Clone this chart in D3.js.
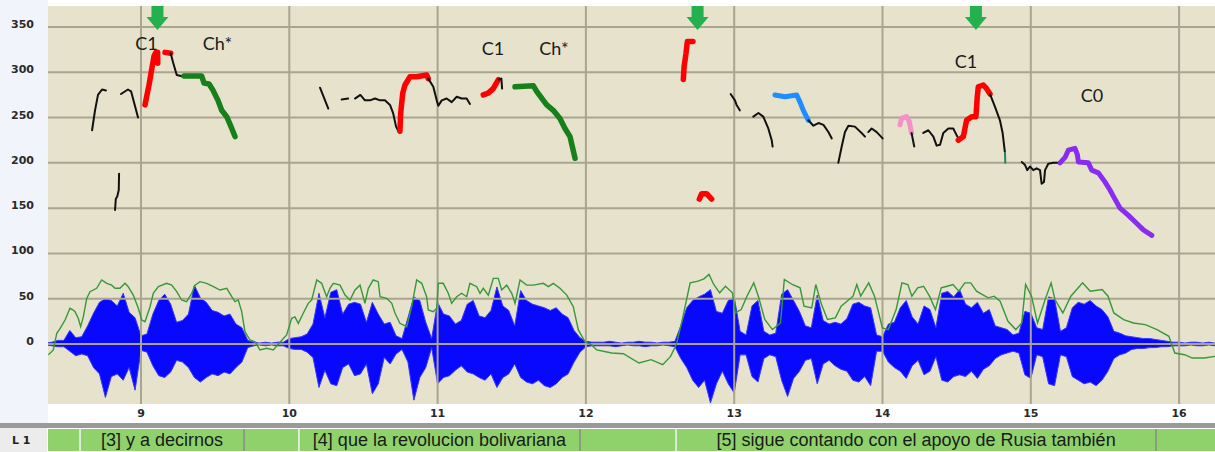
<!DOCTYPE html>
<html><head><meta charset="utf-8">
<script src="https://cdnjs.cloudflare.com/ajax/libs/d3/7.8.5/d3.min.js"></script>
<style>html,body{margin:0;padding:0;background:#fff;overflow:hidden}svg{display:block}</style>
</head><body><svg id="c" width="1215" height="452"></svg>
<script>
// ---------- DATA ----------
const yTickValues = [0, 50, 100, 150, 200, 250, 300, 350];
const xTickValues = [9, 10, 11, 12, 13, 14, 15, 16];

// pitch contour segments (time in s, F0 in Hz), with a class per segment
const contourClass = ['plain','plain','plain','c1','c1','plain','ch','plain','plain','plain','c1','plain','c1','plain','ch',
  'c1','c1','plain','plain','blue','plain','plain','plain','pink','plain','plain','c1','plain','tick','plain','purple'];
const contourTimes = [
  [8.67,8.69,8.71,8.737,8.764],
  [8.825,8.83,8.84,8.85,8.852],
  [8.865,8.912,8.933,8.98],
  [9.027,9.054,9.074,9.088,9.1,9.112,9.113],
  [9.162,9.2],
  [9.2,9.216,9.241,9.29],
  [9.29,9.409,9.425,9.459,9.486,9.519,9.544,9.578,9.612,9.634],
  [10.207,10.263],
  [10.353,10.397],
  [10.443,10.479,10.51,10.544,10.578,10.612,10.645,10.679,10.70,10.72,10.735],
  [10.746,10.751,10.765,10.78,10.814,10.859,10.927,10.937],
  [10.937,10.971,10.994,11.005,11.028,11.061,11.095,11.129,11.162,11.196,11.218],
  [11.308,11.341,11.375,11.41],
  [11.41,11.43,11.435],
  [11.522,11.646,11.668,11.713,11.736,11.78,11.825,11.859,11.893,11.927],
  [12.657,12.662,12.675,12.684,12.722],
  [12.765,12.781,12.814,12.848],
  [12.976,13.005,13.016,13.038],
  [13.129,13.163,13.196,13.23,13.253,13.259],
  [13.275,13.343,13.421,13.444,13.466,13.5],
  [13.5,13.534,13.568,13.602,13.635,13.658],
  [13.702,13.725,13.747,13.77,13.814,13.859,13.882],
  [13.904,13.927,13.961,14.001],
  [14.118,14.129,14.163,14.18,14.196],
  [14.196,14.214],
  [14.275,14.309,14.343,14.365,14.388,14.41,14.444,14.477,14.511],
  [14.511,14.545,14.567,14.601,14.63,14.639,14.646,14.68,14.702,14.725],
  [14.725,14.758,14.792,14.81,14.825],
  [14.826,14.828],
  [14.939,14.96,14.976,14.994,15.017,15.039,15.062,15.073,15.089,15.096,15.118,15.151,15.197],
  [15.197,15.231,15.253,15.298,15.314,15.321,15.388,15.411,15.455,15.5,15.534,15.557,15.602,15.658,15.715,15.759,15.816]
];
const contourHz = [
  [236,258,275,281,280],
  [148,160,163,170,188],
  [276,281,279,250],
  [264,286,305,318,322,322,310],
  [322,321],
  [321,311,297,295],
  [296,296,288,287,280,269,258,251,238,229],
  [283,260],
  [270,271],
  [271,275,269,269,271,269,269,264,255,240,235],
  [235,255,277,286,295,295,297,293],
  [293,284,269,263,269,271,267,273,271,271,265],
  [275,277,282,292],
  [292,293,282],
  [284,285,279,269,264,258,249,238,229,205],
  [292,306,321,334,334],
  [160,166,166,160],
  [276,269,264,258],
  [251,255,251,238,225,218],
  [275,273,275,267,258,247],
  [247,241,244,242,234,227],
  [200,218,234,241,240,233,229],
  [234,238,234,227],
  [242,249,251,246,233],
  [233,218],
  [233,236,229,219,220,233,238,238,227],
  [225,229,247,251,251,273,284,286,282,276],
  [276,262,247,233,212],
  [211,200],
  [201,198,192,196,192,194,192,177,179,192,199,200,200],
  [200,206,214,216,209,201,200,192,189,179,170,163,150,142,133,126,120]
];

// intensity curve (green)
const intensityT = [8.375,8.409,8.432,8.454,8.488,8.521,8.543,8.555,8.577,8.593,8.611,8.634,8.656,8.701,8.735,8.769,8.802,8.825,8.858,8.892,8.914,8.948,8.982,9.005,9.027,9.061,9.083,9.117,9.173,9.207,9.241,9.274,9.308,9.342,9.364,9.398,9.443,9.488,9.533,9.578,9.612,9.634,9.656,9.679,9.701,9.735,9.769,9.802,9.848,9.892,9.937,9.982,10.016,10.038,10.061,10.094,10.128,10.151,10.185,10.218,10.252,10.274,10.297,10.342,10.376,10.409,10.443,10.477,10.51,10.533,10.566,10.6,10.612,10.657,10.691,10.713,10.746,10.792,10.825,10.859,10.893,10.926,10.937,10.971,10.994,11.005,11.038,11.072,11.095,11.129,11.162,11.196,11.218,11.264,11.286,11.308,11.342,11.376,11.409,11.432,11.466,11.5,11.522,11.556,11.601,11.646,11.713,11.747,11.78,11.825,11.871,11.915,11.949,11.994,12.039,12.073,12.174,12.253,12.358,12.439,12.518,12.571,12.61,12.65,12.703,12.756,12.796,12.83,12.862,12.902,12.941,12.988,13.007,13.047,13.086,13.132,13.166,13.206,13.258,13.312,13.338,13.391,13.444,13.471,13.523,13.55,13.589,13.629,13.682,13.721,13.761,13.801,13.827,13.853,13.907,13.946,13.999,14.039,14.092,14.131,14.171,14.198,14.237,14.277,14.317,14.357,14.396,14.436,14.475,14.515,14.555,14.595,14.634,14.674,14.713,14.753,14.793,14.846,14.899,14.939,14.965,15.005,15.045,15.097,15.137,15.163,15.216,15.27,15.349,15.401,15.481,15.521,15.56,15.626,15.692,15.772,15.851,15.931,15.971,16.037,16.089,16.169,16.242];
const intensityV = [-12,-6.6,11.8,17,26.5,39.4,37.5,35.7,28.4,19.1,30,50.4,57.8,61.5,70.7,67,65,61.5,61.5,67,63.3,54,39.4,26.5,24.6,41.2,56,63.3,67,65,57.8,48.6,46.7,56,65,68.8,67,63.3,59.6,61.5,52.2,46.7,48.6,35.7,13.6,4.4,2.5,-6.6,-4.7,-6.6,2,10,28.4,30,22.8,33.9,44.9,48.6,70.7,67,52.2,61.5,67,65,54,48.6,59.6,65,44.9,61.5,70.7,68.8,52.2,50.4,44.9,33.9,22.8,19.1,41.2,70.7,67,52.2,37.5,35.7,39.4,67,67,56,44.9,52.2,56,52.2,67,63.3,56,61.5,54,72.5,72.5,59.6,65,56,44.9,70.7,65,65,67,63.3,67,61.5,54,41.2,15.5,2.5,-1,-6.6,-10,-10.7,-21,-17.3,-22.9,-13.7,-0.7,27,67.5,69.4,72,76.8,65.7,56.5,63.8,56.5,34.3,38,52.8,67.5,51,27,15.9,23.2,71.2,65.7,62,41.7,39.9,65.7,43.5,27,28.8,41.7,47.2,52.8,65.7,52.8,67.5,52.8,17.7,15.9,38,67.5,65.7,52.8,62,63.8,52.8,38,62,63.8,65.7,58.3,67.5,67.5,58.3,54.6,51,52.8,47.2,25.1,15.9,23.2,65.7,52.8,23.2,49.1,67.5,49.1,34.3,52.8,67.5,58.3,60.1,52.8,34.3,27,23.2,21.4,15.9,8.5,-10,-11.8,-15.5,-15.5,-13.7];

// waveform envelope, sampled every 0.04 s from 8.36 s
const waveStart = 8.36, waveStep = 0.04;
const waveUpper = [1,2,4,4,15,7,8,20,34,46, 50,48,42,56,35,29,9,11,33,48, 55,44,24,26,33,65,51,46,37,35, 31,33,22,18,4,2,1,2,1,2,
  2,6,7,8,11,22,56,29,57,60, 33,44,46,44,24,46,33,22,24,9, 6,29,52,48,24,6,46,33,31,22, 26,44,48,31,29,37,63,42,37,20,
  59,48,44,42,40,37,40,33,29,15, 7,3,2,2,2,3,2,1,2,2, 3,2,2,1,2,2,3,20,40,48, 52,55,60,36,34,48,52,14,10,42,
  48,14,10,12,55,60,48,36,20,18, 54,26,22,24,22,28,44,46,42,40, 10,8,22,24,40,48,30,22,42,38, 18,56,58,52,60,44,40,46,34,38,
  20,18,16,10,12,36,34,18,16,52, 50,14,18,40,46,44,48,42,38,30, 14,12,9,8,7,6,6,5,4,3, 2,2,1,2,2,1,2,1];
const waveLower = [1,2,3,3,8,13,11,13,26,33, 59,36,33,40,26,51,7,9,24,35, 37,31,18,20,26,37,42,37,33,35, 31,33,26,20,4,2,1,2,1,2,
  2,5,6,6,9,15,48,29,44,46, 26,22,35,33,22,55,44,15,22,11, 6,20,62,37,26,4,44,37,35,29, 24,31,33,37,40,33,48,37,33,22,
  37,42,44,40,46,48,44,37,33,20, 9,3,2,2,2,2,3,2,1,2, 2,3,2,2,1,2,3,16,26,40, 48,40,65,44,30,44,54,12,12,36,
  42,16,12,14,40,58,38,30,18,16, 44,22,18,24,28,30,40,42,36,46, 8,8,20,26,30,38,24,18,34,30, 14,40,42,36,34,36,30,38,28,24,
  16,12,10,8,10,34,38,12,14,44, 46,12,14,36,40,44,42,46,40,30, 16,12,10,6,5,5,4,4,3,3, 2,2,2,1,2,2,1,2];

// annotations
const noteText = ['C1','Ch*','C1','Ch*','C1','C0'];
const noteT = [9.037, 9.516, 11.374, 11.785, 14.563, 15.413];
const noteHz = [325, 325, 319, 319, 305, 267];
const arrowT = [9.111, 12.753, 14.630];

// tier
const tierStart = [8.589, 10.065, 12.608];
const tierEnd = [9.695, 11.960, 15.844];
const tierText = ['[3] y a decirnos', '[4] que la revolucion bolivariana', '[5] sigue contando con el apoyo de Rusia también'];

// ---------- DRAW ----------
const svg = d3.select('#c');
const W = 1215, H = 452;
const plot = {l: 48, t: 6, r: 1215, b: 404};
const x = d3.scaleLinear().domain([9, 16]).range([141, 1179.1]);
const y = d3.scaleLinear().domain([0, 350]).range([344, 27]);

svg.append('rect').attr('x',0).attr('y',0).attr('width',W).attr('height',H).attr('fill','#fff');
svg.append('rect').attr('x',0).attr('y',0).attr('width',plot.l).attr('height',424).attr('fill','#f1f4fb');
svg.append('rect').attr('x',plot.l).attr('y',plot.t).attr('width',plot.r-plot.l).attr('height',plot.b-plot.t).attr('fill','#e6e2cc');

svg.append('defs').append('clipPath').attr('id','clip').append('rect')
  .attr('x',plot.l).attr('y',plot.t).attr('width',plot.r-plot.l).attr('height',plot.b-plot.t);
const g = svg.append('g').attr('clip-path','url(#clip)');

// waveform
const waveIdx = d3.range(waveUpper.length);
const wt = i => waveStart + i*waveStep;
g.append('path').datum(waveIdx)
  .attr('d', d3.area().x(i => x(wt(i))).y0(i => y(-waveLower[i])).y1(i => y(waveUpper[i])))
  .attr('fill','#0808ff').attr('stroke','#3535ff').attr('stroke-width',1);

// grid
const gridColor = '#a9a58f';
g.selectAll('.hg').data(yTickValues).join('line')
  .attr('x1',plot.l).attr('x2',plot.r).attr('y1',d=>y(d)).attr('y2',d=>y(d))
  .attr('stroke',gridColor).attr('stroke-width',2);
g.selectAll('.vg').data(xTickValues).join('line')
  .attr('x1',d=>x(d)).attr('x2',d=>x(d)).attr('y1',plot.t).attr('y2',plot.b)
  .attr('stroke',gridColor).attr('stroke-width',2);

// intensity
g.append('path').datum(d3.range(intensityT.length))
  .attr('d', d3.line().x(i=>x(intensityT[i])).y(i=>y(intensityV[i])))
  .attr('fill','none').attr('stroke','#36983a').attr('stroke-width',1.4);

// contours
const style = {
  plain: {c:'#111', w:2},
  c1: {c:'#ff0000', w:5.5},
  ch: {c:'#17801a', w:5.5},
  blue: {c:'#1f8cff', w:5},
  pink: {c:'#f590c8', w:5},
  purple: {c:'#8a2cf0', w:5},
  tick: {c:'#1d8a5e', w:2}
};
contourTimes.forEach((ts, s) => {
  const st = style[contourClass[s]];
  g.append('path').datum(d3.range(ts.length))
    .attr('d', d3.line().x(i=>x(ts[i])).y(i=>y(contourHz[s][i])))
    .attr('fill','none').attr('stroke',st.c).attr('stroke-width',st.w)
    .attr('stroke-linecap','round').attr('stroke-linejoin','round');
});

// notes
g.selectAll('.note').data(noteText).join('text')
  .attr('x',(d,i)=>x(noteT[i])).attr('y',(d,i)=>y(noteHz[i]))
  .attr('text-anchor','middle').attr('font-family','Lato, "Open Sans", sans-serif')
  .attr('font-size',18).attr('fill','#1a1a1a').text(d=>d);

// arrows
arrowT.forEach(t => {
  const cx = x(t);
  const p = [[cx-6,plot.t],[cx+6,plot.t],[cx+6,17],[cx+11,17],[cx,30],[cx-11,17],[cx-6,17]];
  g.append('path').attr('d','M'+p.map(q=>q.join(',')).join('L')+'Z').attr('fill','#22b14c');
});

// axes labels
svg.selectAll('.yl').data(yTickValues).join('text')
  .attr('x',34).attr('y',d=>y(d)+1).attr('text-anchor','end')
  .attr('font-family','"DejaVu Sans", sans-serif').attr('font-weight','bold').attr('font-size',11)
  .attr('fill','#2a2a2a').text(d=>d);
svg.selectAll('.xl').data(xTickValues).join('text')
  .attr('x',d=>x(d)).attr('y',417).attr('text-anchor','middle')
  .attr('font-family','"DejaVu Sans", sans-serif').attr('font-weight','bold').attr('font-size',11)
  .attr('fill','#2a2a2a').text(d=>d);

// tier row
svg.append('rect').attr('x',0).attr('y',423).attr('width',W).attr('height',5).attr('fill','#9a9a9a');
svg.append('rect').attr('x',0).attr('y',428).attr('width',47).attr('height',24).attr('fill','#ececec');
svg.append('text').attr('x',12).attr('y',444).attr('font-family','"DejaVu Sans", sans-serif')
  .attr('font-weight','bold').attr('font-size',11).attr('fill','#222').text('L 1');
svg.append('rect').attr('x',plot.l).attr('y',429).attr('width',plot.r-plot.l).attr('height',22).attr('fill','#8fd26b');
tierStart.forEach((s,i) => {
  svg.append('line').attr('x1',x(s)).attr('x2',x(s)).attr('y1',429).attr('y2',451).attr('stroke','#f4f4f4').attr('stroke-width',1.5);
  svg.append('line').attr('x1',x(tierEnd[i])).attr('x2',x(tierEnd[i])).attr('y1',429).attr('y2',451).attr('stroke','#8a8a8a').attr('stroke-width',1.5);
  svg.append('text').attr('x',(x(s)+x(tierEnd[i]))/2).attr('y',446).attr('text-anchor','middle')
    .attr('font-family','"Liberation Sans", Arial, sans-serif').attr('font-size',18).attr('fill','#1a1a1a').text(tierText[i]);
});
</script></body></html>
